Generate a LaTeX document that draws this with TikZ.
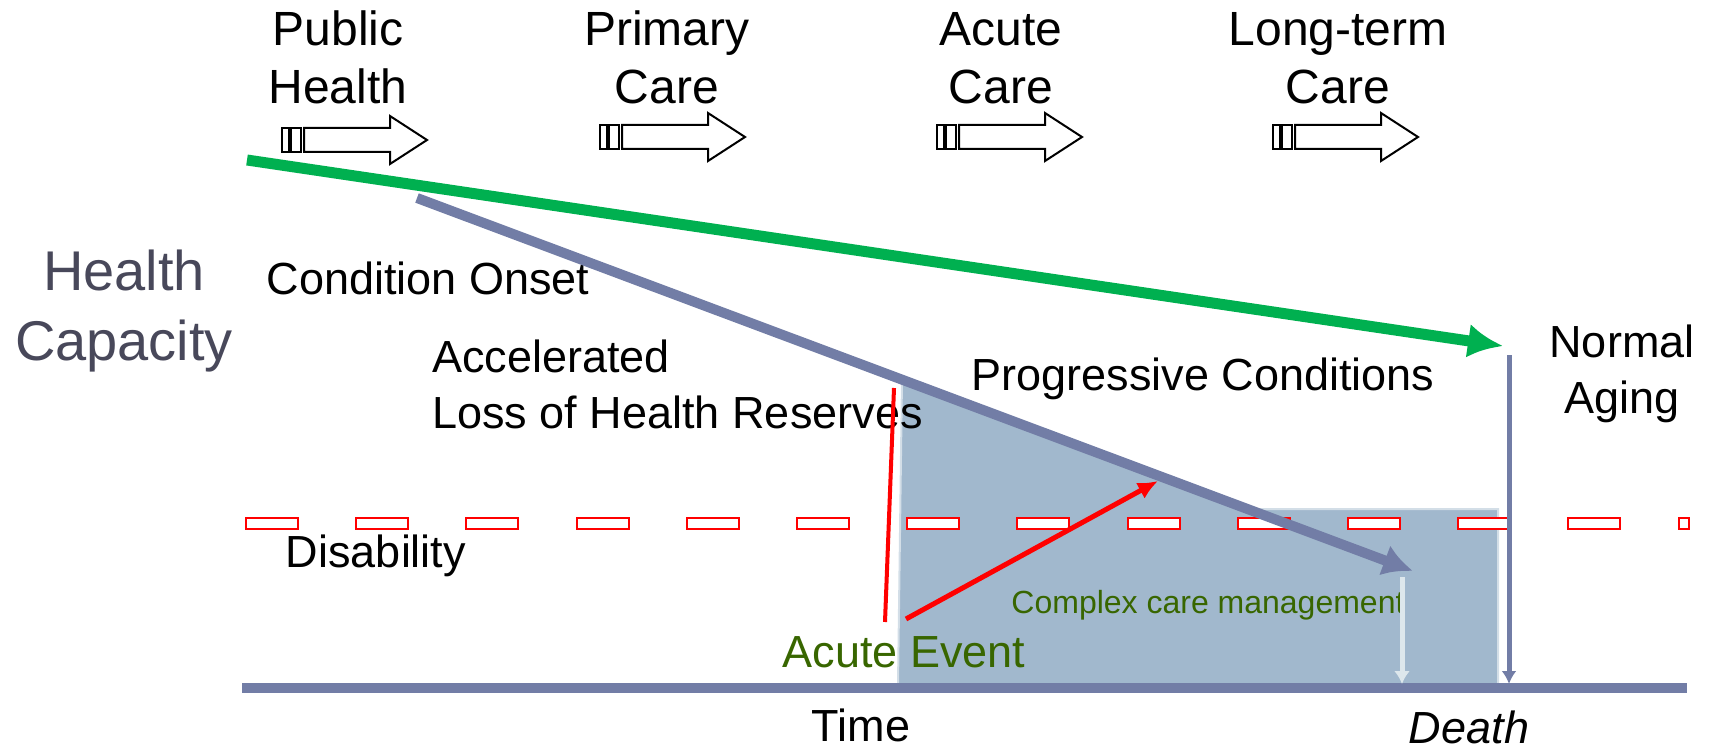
\documentclass[tikz,border=0pt]{standalone}
\usepackage{fontspec}
\setmainfont{Liberation Sans}
\usetikzlibrary{arrows.meta}
\definecolor{CapLine}{HTML}{727DA6}
\definecolor{CapGreen}{HTML}{00B050}
\definecolor{CapFill}{HTML}{A1B8CD}
\definecolor{CapEdge}{HTML}{D3DEE7}
\definecolor{CapPale}{HTML}{DDE7EC}
\definecolor{CapText}{HTML}{48485A}
\definecolor{CapOlive}{RGB}{56,102,0}
\tikzset{
  stagetext/.style={align=center,anchor=base,inner sep=0pt,font=\fontsize{24}{29}\selectfont},
  plaintext/.style={align=left,anchor=base,inner sep=0pt,font=\fontsize{22.5}{28}\selectfont},
  axistext/.style={align=center,anchor=base,inner sep=0pt,text=CapText,font=\fontsize{28}{35}\selectfont},
  eventtext/.style={plaintext,text=CapOlive},
  caretext/.style={anchor=base,inner sep=0pt,text=CapOlive,font=\fontsize{16}{19}\selectfont},
  careshape/.pic={
    \draw[line width=1pt] (0,-12) rectangle (7,12);
    \draw[line width=1pt] (9,-12) rectangle (19,12);
    \draw[line width=1pt] (22,-12) -- (108,-12) -- (108,-24) -- (145,0)
      -- (108,24) -- (108,12) -- (22,12) -- cycle;
  },
  careregion/.style={fill=CapFill,draw=CapEdge,line width=1pt},
  dashbox/.style={draw=red,fill=white,line width=1pt},
  axisline/.style={draw=CapLine,line width=5pt},
  healthline/.style={draw=CapGreen,line width=5.5pt,-{Latex[length=17.5pt,width=17pt]}},
  progline/.style={draw=CapLine,line width=5pt,-{Latex[length=15pt,width=16pt]}},
  deathline/.style={draw=CapLine,line width=2.5pt,-{Latex[length=6.5pt,width=7.5pt]}},
  paleline/.style={draw=CapPale,line width=2.5pt,-{Latex[length=6.5pt,width=8pt]}},
  onsetline/.style={draw=red,line width=2pt},
  eventline/.style={draw=red,line width=2.5pt,-{Latex[length=10pt,width=9pt]}}
}
\begin{document}
\begin{tikzpicture}[x=0.5pt,y=-0.5pt]
  \useasboundingbox (0,0) rectangle (1709,749);

  % care stages along the top
  \node[stagetext] (public) at (338,104) {Public\\Health};
  \node[stagetext] (primary) at (667,104) {Primary\\Care};
  \node[stagetext] (acute) at (1001,104) {Acute\\Care};
  \node[stagetext] (longterm) at (1338,104) {Long-term\\Care};
  \pic (publicArrow) at (282,140) {careshape};
  \pic (primaryArrow) at (600,137) {careshape};
  \pic (acuteArrow) at (937,137) {careshape};
  \pic (longtermArrow) at (1273,137) {careshape};

  \coordinate (healthStart) at (247,160);
  \coordinate (healthEnd) at (1503,346);
  \coordinate (onsetStart) at (417,198);
  \coordinate (onsetEnd) at (1413,571);
  \coordinate (axisLeft) at (242,688);
  \coordinate (axisRight) at (1687,688);
  \coordinate (deathTop) at (1509,355);
  \coordinate (deathFoot) at (1509,684);
  \coordinate (careTop) at (1402,577);
  \coordinate (careFoot) at (1402,684);
  \coordinate (eventTop) at (894,388);
  \coordinate (eventFoot) at (885,622);
  \coordinate (eventStart) at (906,619);
  \coordinate (eventEnd) at (1158,481);

  % shaded care region under the progressive line
  \fill[careregion] (902,379) -- (1250,509) -- (1498,509) -- (1498,685)
    -- (898,685) -- cycle;

  % disability threshold
  \foreach \i in {0,...,12}
    \draw[dashbox] ({246+110.2*\i},518) rectangle ++(52,11);
  \draw[dashbox] (1679,518) rectangle (1689,529);

  \node[axistext] (capacity) at (124,360) {Health\\Capacity};
  \node[plaintext] (onset) at (428,294) {Condition Onset};
  \node[plaintext,anchor=base west] (accel) at (432,428) {Accelerated\\Loss of Health Reserves};
  \node[plaintext] (progressive) at (1203,390) {Progressive Conditions};
  \node[plaintext,align=center] (normal) at (1622,413) {Normal\\Aging};
  \node[plaintext] (disability) at (376,567) {Disability};
  \node[caretext] (complex) at (1208,613) {Complex care management};
  \node[eventtext] (event) at (904,667) {Acute Event};
  \node[plaintext] (time) at (861,741) {Time};
  \node[plaintext,font=\fontsize{22.5}{28}\selectfont\itshape] (death) at (1469,743) {Death};

  \draw[axisline] (axisLeft) -- (axisRight);
  \draw[healthline] (healthStart) -- (healthEnd);
  \draw[progline] (onsetStart) -- (onsetEnd);
  \draw[deathline] (deathTop) -- (deathFoot);
  \draw[paleline] (careTop) -- (careFoot);
  \draw[onsetline] (eventTop) -- (eventFoot);
  \draw[eventline] (eventStart) -- (eventEnd);
\end{tikzpicture}
\end{document}
